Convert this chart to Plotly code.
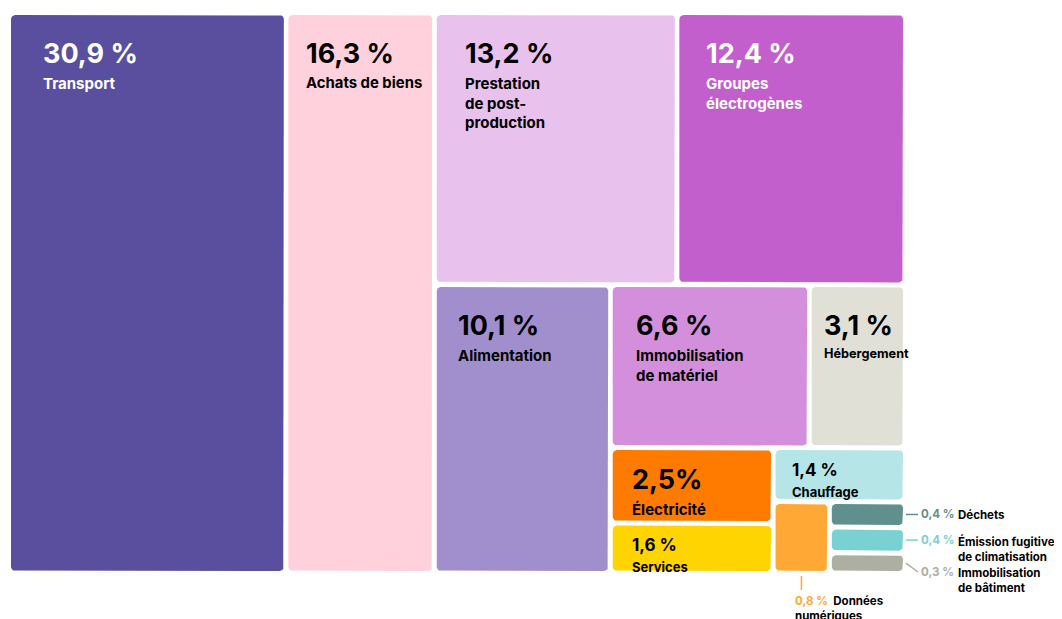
import math
import plotly.graph_objects as go

# ---------------- data ----------------
categories = [
    "Transport", "Achats de biens", "Prestation de post-production",
    "Groupes électrogènes", "Alimentation", "Immobilisation de matériel",
    "Hébergement", "Électricité", "Services", "Chauffage",
    "Données numériques", "Déchets", "Émission fugitives de climatisation",
    "Immobilisation de bâtiment",
]
values = [30.9, 16.3, 13.2, 12.4, 10.1, 6.6, 3.1, 2.5, 1.6, 1.4, 0.8, 0.4, 0.4, 0.3]
value_labels = ["30,9 %", "16,3 %", "13,2 %", "12,4 %", "10,1 %", "6,6 %", "3,1 %",
                "2,5%", "1,6 %", "1,4 %", "0,8 %", "0,4 %", "0,4 %", "0,3 %"]
display_labels = [
    "Transport", "Achats de biens", "Prestation<br>de post-<br>production",
    "Groupes<br>électrogènes", "Alimentation", "Immobilisation<br>de matériel",
    "Hébergement", "Électricité", "Services", "Chauffage",
    "Données<br>numériques", "Déchets", "Émission fugitives<br>de climatisation",
    "Immobilisation<br>de bâtiment",
]

# ---------------- styles ----------------
colors = ["#5a4f9f", "#ffd1dc", "#e8c1ec", "#c35fcd", "#a08fcc", "#d48fdc",
          "#e0e0d7", "#ff7b00", "#ffd400", "#b5e5e7", "#ffa835", "#5f908d",
          "#79d1d2", "#aeafa3"]
text_colors = ["white", "black", "black", "white"] + ["black"] * 10
callout = {10: "below", 11: "right", 12: "right", 13: "right"}

# nesting of the tiles: ("h", ...) = side by side, ("v", ...) = stacked
TREE = ("h", [0, 1,
              ("v", [("h", [2, 3]),
                     ("h", [4,
                            ("v", [("h", [5, 6]),
                                   ("h", [("v", [7, 8]),
                                          ("v", [9,
                                                 ("h", [10, ("v", [11, 12, 13])])])])])])])])

# the page body has an 8 px margin, so the figure is 8 px smaller
W, H = 1054, 611
BOX = (3, 7, 895, 563)
GAP = 4.5
FONT = "Inter, Noto Sans, sans-serif"


def node_sum(node):
    if isinstance(node, int):
        return values[node]
    return sum(node_sum(k) for k in node[1])


def layout(node, x0, y0, x1, y1, out):
    if isinstance(node, int):
        out[node] = (x0, y0, x1, y1)
        return
    orient, kids = node
    sums = [node_sum(k) for k in kids]
    total = sum(sums)
    n = len(kids)
    if orient == "h":
        avail = (x1 - x0) - GAP * (n - 1)
        pos = x0
        for k, s in zip(kids, sums):
            w = avail * s / total
            layout(k, pos, y0, pos + w, y1, out)
            pos += w + GAP
    else:
        avail = (y1 - y0) - GAP * (n - 1)
        pos = y0
        for k, s in zip(kids, sums):
            h = avail * s / total
            layout(k, x0, pos, x1, pos + h, out)
            pos += h + GAP


rects = {}
layout(TREE, *BOX, rects)


def rounded(x0, y0, x1, y1, r=4.5, steps=6):
    r = min(r, (x1 - x0) / 2, (y1 - y0) / 2)
    corners = [((x0 + r, y0 + r), 180), ((x1 - r, y0 + r), 270),
               ((x1 - r, y1 - r), 0), ((x0 + r, y1 - r), 90)]
    xs, ys = [], []
    for (cx, cy), a0 in corners:
        for i in range(steps + 1):
            t = math.radians(a0 + 90 * i / steps)
            xs.append(cx + r * math.cos(t))
            ys.append(cy + r * math.sin(t))
    xs.append(xs[0])
    ys.append(ys[0])
    return xs, ys


fig = go.Figure()
annotations = []

for i, cat in enumerate(categories):
    x0, y0, x1, y1 = rects[i]
    xs, ys = rounded(x0, y0, x1, y1)
    fig.add_trace(go.Scatter(
        x=xs, y=ys, mode="lines", fill="toself", fillcolor=colors[i],
        line=dict(width=0, color=colors[i]), hoveron="fills",
        text=f"{cat} : {value_labels[i]}", hoverinfo="text", showlegend=False,
    ))

    w, h = x1 - x0, y1 - y0
    if i in callout:
        continue
    big = h >= 65
    fs_num, fs_lab = (27, 15) if big else (17, 13)
    padx = min(33, 0.11 * w)
    pady = min(20, 0.16 * h)
    lines = display_labels[i].split("<br>")
    maxc = max(len(l) for l in lines)
    fs_lab = min(fs_lab, (w - padx - 3) / (maxc * 0.56))
    annotations.append(dict(
        x=x0 + padx, y=y0 + pady, xref="x", yref="y", xanchor="left", yanchor="top",
        text=value_labels[i], showarrow=False, align="left",
        font=dict(family=FONT, size=fs_num, color=text_colors[i], weight=700),
    ))
    annotations.append(dict(
        x=x0 + padx, y=y0 + pady + 1.3 * fs_num + 2, xref="x", yref="y",
        xanchor="left", yanchor="top", text=display_labels[i], showarrow=False,
        align="left",
        font=dict(family=FONT, size=fs_lab, color="black" if text_colors[i] == "black" else "white",
                  weight=700),
    ))

# call-outs for the smallest tiles
FS_C = 11.5
LH = 1.3 * FS_C
prev_bottom = -1e9
for i in sorted(k for k, s in callout.items() if s == "right"):
    x0, y0, x1, y1 = rects[i]
    yc = (y0 + y1) / 2
    ly = max(yc, prev_bottom + LH + 2)
    nl = len(display_labels[i].split("<br>"))
    prev_bottom = ly + (nl - 1) * LH
    fig.add_trace(go.Scatter(
        x=[x1 + 3, x1 + 15], y=[yc, ly], mode="lines",
        line=dict(color=colors[i], width=1.5), hoverinfo="skip", showlegend=False,
    ))
    annotations.append(dict(
        x=x1 + 16, y=ly, xref="x", yref="y", xanchor="left", yanchor="middle",
        text=value_labels[i], showarrow=False,
        font=dict(family=FONT, size=FS_C, color=colors[i], weight=700),
    ))
    annotations.append(dict(
        x=x1 + 53, y=ly - 0.65 * FS_C - 1, xref="x", yref="y", xanchor="left",
        yanchor="top", text=display_labels[i], showarrow=False, align="left",
        font=dict(family=FONT, size=FS_C, color="black", weight=700),
    ))

for i in [k for k, s in callout.items() if s == "below"]:
    x0, y0, x1, y1 = rects[i]
    xc = (x0 + x1) / 2
    fig.add_trace(go.Scatter(
        x=[xc, xc], y=[y1 + 5, y1 + 19], mode="lines",
        line=dict(color=colors[i], width=1.5), hoverinfo="skip", showlegend=False,
    ))
    name_lines = display_labels[i].split("<br>")
    annotations.append(dict(
        x=xc - 8, y=y1 + 21, xref="x", yref="y", xanchor="left", yanchor="top",
        text=(f"<span style='color:{colors[i]}'>{value_labels[i]}</span>"
              f"&nbsp;&nbsp;{name_lines[0]}<br>" + "<br>".join(name_lines[1:])),
        showarrow=False, align="left",
        font=dict(family=FONT, size=FS_C, color="black", weight=700),
    ))

fig.update_layout(
    width=W, height=H, margin=dict(l=0, r=0, t=0, b=0),
    paper_bgcolor="white", plot_bgcolor="white",
    xaxis=dict(range=[0, W], visible=False, fixedrange=True),
    yaxis=dict(range=[H, 0], visible=False, fixedrange=True),
    annotations=annotations, showlegend=False,
)

fig.write_html("out.html")
